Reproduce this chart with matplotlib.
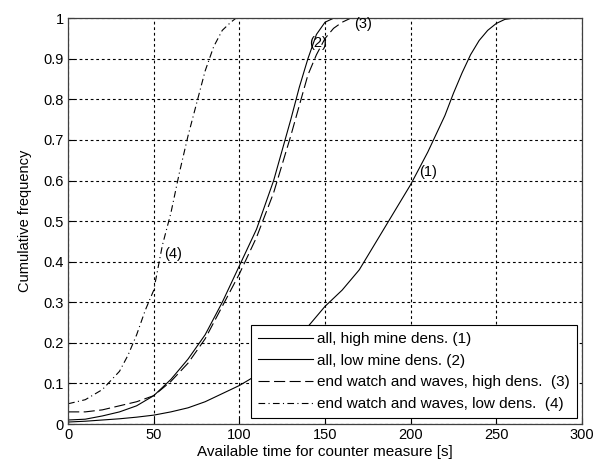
import matplotlib
matplotlib.use("Agg")
import matplotlib.pyplot as plt

plt.rcParams['font.family'] = ['Liberation Sans', 'DejaVu Sans']

# curve (1): all, high mine density
x1 = [0, 10, 20, 30, 40, 50, 60, 70, 80, 90, 100, 110, 120, 130, 140, 150, 160,
      170, 180, 190, 200, 210, 220, 225, 230, 235, 240, 245, 250, 255, 260]
y1 = [0.005, 0.007, 0.01, 0.013, 0.017, 0.022, 0.03, 0.04, 0.055, 0.075, 0.095,
      0.12, 0.15, 0.19, 0.24, 0.29, 0.33, 0.38, 0.45, 0.52, 0.59, 0.67, 0.76,
      0.815, 0.865, 0.91, 0.945, 0.97, 0.987, 0.997, 1.0]

# curve (2): all, low mine density
x2 = [0, 10, 20, 30, 40, 50, 60, 70, 80, 90, 100, 110, 120, 130, 135, 140, 145,
      150, 155]
y2 = [0.01, 0.012, 0.02, 0.03, 0.045, 0.07, 0.11, 0.16, 0.22, 0.30, 0.39, 0.48,
      0.60, 0.75, 0.83, 0.90, 0.96, 0.99, 1.0]

# curve (3): end watch and waves, high density
x3 = [0, 10, 20, 30, 40, 50, 60, 70, 80, 90, 100, 110, 120, 130, 140, 145, 150,
      155, 160, 165]
y3 = [0.03, 0.03, 0.035, 0.045, 0.055, 0.07, 0.105, 0.15, 0.21, 0.29, 0.37, 0.46,
      0.57, 0.71, 0.86, 0.91, 0.95, 0.975, 0.99, 1.0]

# curve (4): end watch and waves, low density
x4 = [0, 10, 20, 30, 35, 40, 45, 50, 55, 60, 65, 70, 75, 80, 85, 90, 95, 98]
y4 = [0.05, 0.06, 0.085, 0.13, 0.17, 0.22, 0.28, 0.33, 0.44, 0.52, 0.62, 0.71,
      0.79, 0.87, 0.93, 0.97, 0.99, 1.0]

labels = ['all, high mine dens. (1)', 'all, low mine dens. (2)',
          'end watch and waves, high dens.  (3)', 'end watch and waves, low dens.  (4)']
tags = ['(1)', '(2)', '(3)', '(4)']
tag_pos = [(205, 0.62), (141, 0.94), (167, 0.985), (56, 0.42)]

fig = plt.figure(figsize=(6.03, 4.66), dpi=100)
ax = fig.add_axes([0.113, 0.090, 0.852, 0.871])

ax.plot(x1, y1, color='black', lw=0.8, ls='-', label=labels[0])
ax.plot(x2, y2, color='black', lw=0.8, ls='-', label=labels[1])
ax.plot(x3, y3, color='black', lw=0.8, ls=(0, (10, 4)), label=labels[2])
ax.plot(x4, y4, color='black', lw=0.8, ls=(0, (6, 3, 1, 3)), label=labels[3])

for t, (tx, ty) in zip(tags, tag_pos):
    ax.text(tx, ty, t, fontsize=10.5, va='center', ha='left')

ax.set_xlim(0, 300)
ax.set_ylim(0, 1)
ax.set_xticks(range(0, 301, 50))
ax.set_yticks([i / 10 for i in range(11)])
ax.set_yticklabels(['0', '0.1', '0.2', '0.3', '0.4', '0.5', '0.6', '0.7', '0.8', '0.9', '1'])
ax.tick_params(direction='in', labelsize=10.5, length=4, width=0.8, pad=3)
ax.grid(True, color='black', ls=(0, (2.5, 2.5)), lw=0.8)
for s in ax.spines.values():
    s.set_color('#404040')
    s.set_linewidth(0.9)

ax.set_xlabel('Available time for counter measure [s]', fontsize=11, labelpad=2)
ax.set_ylabel('Cumulative frequency', fontsize=10.5, labelpad=8)

leg = ax.legend(loc='lower right', bbox_to_anchor=(0.99, 0.015), fontsize=11,
                fancybox=False, framealpha=1, edgecolor='black', handlelength=3.6,
                handletextpad=0.3, labelspacing=0.5, borderpad=0.45, borderaxespad=0)
leg.get_frame().set_linewidth(0.8)

fig.savefig('out.png', dpi=100)
